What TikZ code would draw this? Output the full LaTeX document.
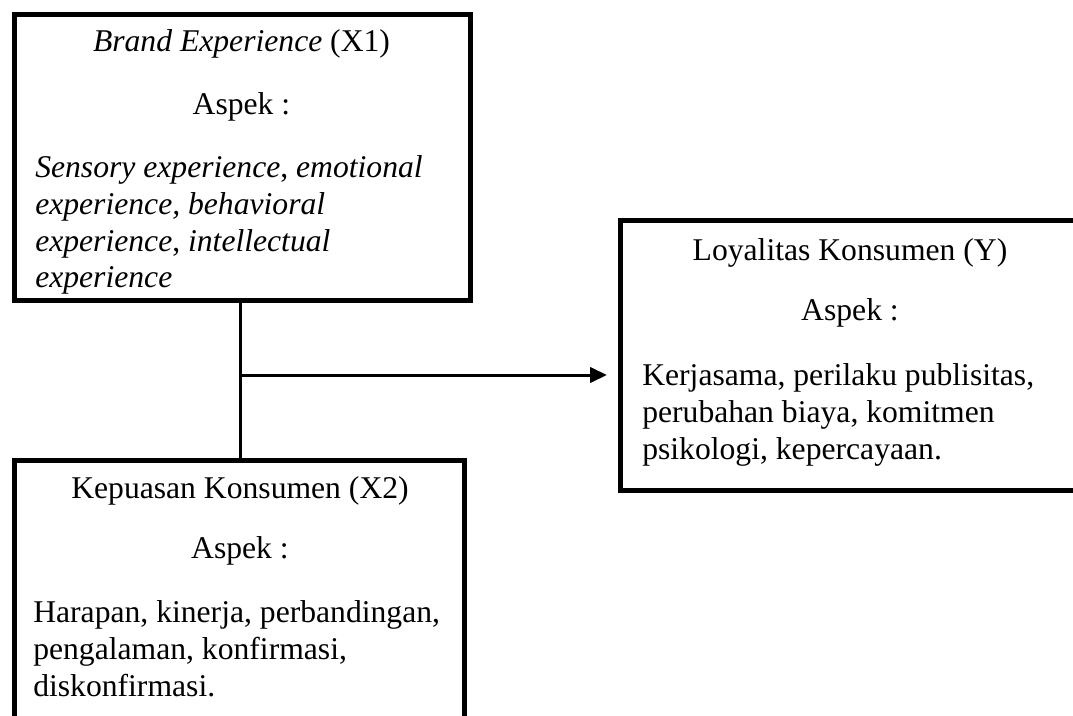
\documentclass[tikz,border=0pt]{standalone}
\usepackage{fontspec}
\setmainfont{Liberation Serif}
\usetikzlibrary{arrows.meta,calc,positioning}
\newcommand{\pxunit}{0.025cm}
\newcommand{\txtsize}{\fontsize{22.5pt}{26.1pt}\selectfont}
\tikzset{
    boxsty/.style={draw,line width=0.125cm,rectangle,inner sep=0pt},
    titlesty/.style={anchor=base,inner sep=0pt,font=\txtsize},
    bodysty/.style={anchor=north west,align=left,inner sep=0pt,font=\txtsize},
    linesty/.style={line width=0.075cm},
    arrsty/.style={linesty,-{Triangle[length=0.42cm,width=0.38cm]},shorten >=0.275cm},
}

\begin{document}
\begin{tikzpicture}[x=\pxunit,y=-\pxunit]
\useasboundingbox (0,0) rectangle (1073,716);
\clip (0,0) rectangle (1073,716);

% boxes
\node[boxsty,minimum width=11.4cm,minimum height=7.15cm] (expbox) at (242.5,157.5) {};
\node[boxsty,minimum width=11.475cm,minimum height=6.75cm] (loybox) at (850,355.5) {};
\node[boxsty,minimum width=11.25cm,minimum height=7cm] (kepbox) at (239.5,600.5) {};

% texts
\node[titlesty] (exptitle) at (241.5,52) {\textit{Brand Experience} (X1)};
\node[titlesty] (expaspek) at (241.5,115) {Aspek :};
\node[bodysty] (expbody) at (35,155.4) {\textit{Sensory experience}, \textit{emotional}\\
  \textit{experience, behavioral}\\
  \textit{experience}, \textit{intellectual}\\
  \textit{experience}};

\node[titlesty] (loytitle) at (850,260) {Loyalitas Konsumen (Y)};
\node[titlesty] (loyaspek) at (850,320) {Aspek :};
\node[bodysty] (loybody) at (642,363.4) {Kerjasama, perilaku publisitas,\\
  perubahan biaya, komitmen\\
  psikologi, kepercayaan.};

\node[titlesty] (keptitle) at (240,498) {Kepuasan Konsumen (X2)};
\node[titlesty] (kepaspek) at (240,558) {Aspek :};
\node[bodysty] (kepbody) at (33,600.4) {Harapan, kinerja, perbandingan,\\
  pengalaman, konfirmasi,\\
  diskonfirmasi.};

% connectors
\coordinate (joint) at (240,375);
\draw[linesty] (expbox.south -| joint) -- (kepbox.north -| joint);
\draw[arrsty] (joint) -- (joint -| loybox.west);
\end{tikzpicture}
\end{document}
